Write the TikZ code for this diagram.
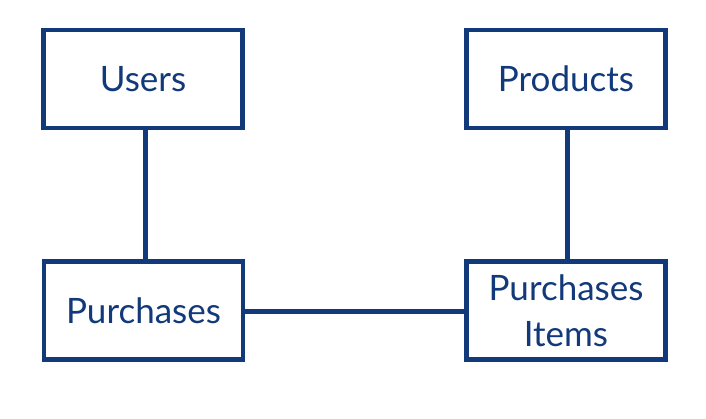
\documentclass[tikz,border=0pt]{standalone}
\usepackage{fontspec}
\setmainfont{Lato}
\definecolor{navy}{HTML}{12397A}
\begin{document}
\begin{tikzpicture}[x=1pt,y=1pt,
  entity/.style={draw=navy, line width=4.5pt, fill=white, minimum width=199pt, minimum height=98pt, inner sep=0pt, align=center, text=navy, font=\fontsize{35}{46}\selectfont},
  link/.style={draw=navy, line width=5pt}]
\useasboundingbox (0,0) rectangle (706,419);
\node[entity] (users) at (143,340) {Users};
\node[entity] (products) at (566,340) {Products};
\node[entity] (purch) at (143.5,108.5) {Purchases};
\node[entity] (items) at (566,108.5) {Purchases\\Items};
\draw[link] ([xshift=2pt]users.south) -- ([xshift=1.5pt]purch.north);
\draw[link] ([xshift=1pt]products.south) -- ([xshift=1pt]items.north);
\draw[link] ([yshift=-1.5pt]purch.east) -- ([yshift=-1.5pt]items.west);
\end{tikzpicture}
\end{document}
